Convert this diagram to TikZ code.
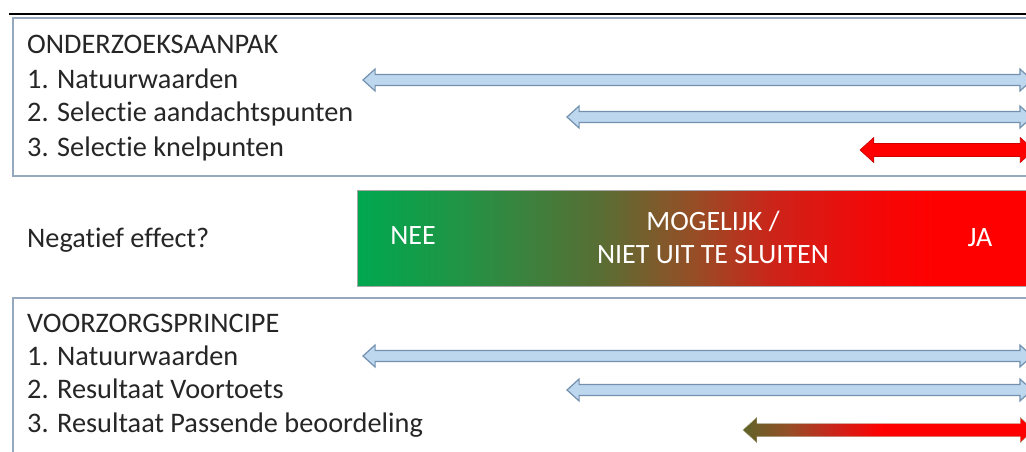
\documentclass[tikz,border=0pt]{standalone}
\usepackage{fontspec}
\setmainfont{Carlito}[Ligatures={NoCommon}]
\definecolor{boxline}{RGB}{150,168,190}
\definecolor{arrfill}{RGB}{189,215,238}
\definecolor{arrline}{RGB}{115,145,175}
\definecolor{gA}{RGB}{0,168,80}
\definecolor{gB}{RGB}{30,150,70}
\definecolor{gC}{RGB}{88,110,52}
\definecolor{gD}{RGB}{150,78,38}
\definecolor{gE}{RGB}{205,35,25}
\definecolor{gF}{RGB}{242,8,8}
\definecolor{olv}{RGB}{95,100,40}
\pgfdeclarehorizontalshading{effectbar}{100bp}{color(0bp)=(gA); color(25bp)=(gA); color(32bp)=(gB); color(43bp)=(gC); color(50bp)=(gD); color(56bp)=(gE); color(63bp)=(gF); color(68bp)=(red); color(100bp)=(red)}
\pgfdeclarehorizontalshading{lastarrow}{100bp}{color(0bp)=(olv); color(25bp)=(olv); color(33bp)=(gD); color(41bp)=(gE); color(49bp)=(red); color(100bp)=(red)}
\newcommand\dblarrow[6]{%
  \path[#1] (#2,#4) -- (#2+1.1*#6,#4-#6) -- (#2+1.1*#6,#4-#5) -- (#3-1.1*#6,#4-#5)
    -- (#3-1.1*#6,#4-#6) -- (#3,#4) -- (#3-1.1*#6,#4+#6) -- (#3-1.1*#6,#4+#5)
    -- (#2+1.1*#6,#4+#5) -- (#2+1.1*#6,#4+#6) -- cycle;}
\tikzset{
  lbl/.style={anchor=west, inner sep=0pt, font=\fontsize{28.3}{34}\selectfont, text=black!85},
  barlbl/.style={inner sep=0pt, text=white, font=\fontsize{28}{33}\selectfont, align=center},
  blue arrow/.style={fill=arrfill, draw=arrline, line width=1.2pt, line join=miter},
  red arrow/.style={fill=red, draw=red!80!black, line width=0.6pt},
  grad arrow/.style={shading=lastarrow, draw=olv!60, line width=0.4pt},
  panel/.style={draw=boxline, line width=1.5pt}
}
\begin{document}
\begin{tikzpicture}[x=1pt,y=-1pt]
\useasboundingbox (0,0) rectangle (1026,452);
\fill[white] (0,0) rectangle (1026,452);
\clip (0,0) rectangle (1026,452);
% top rule
\draw[line width=2pt, black] (9,14) -- (1030,14);
% panels
\draw[panel] (1040,18) -- (13,18) -- (13,176) -- (1040,176);
\draw[panel] (1040,298) -- (13,298) -- (13,460);
% top panel texts
\node[lbl] (t0) at (27,44) {ONDERZOEKSAANPAK};
\node[lbl] (t1) at (27,79) {1. Natuurwaarden};
\node[lbl] (t2) at (27,114) {2. Selectie aandachtspunten};
\node[lbl] (t3) at (27,149) {3. Selectie knelpunten};
% top arrows
\dblarrow{blue arrow}{363}{1032}{80}{5.5}{11}
\dblarrow{blue arrow}{567}{1032}{117}{5.5}{11}
\dblarrow{red arrow}{860}{1034}{150}{6.5}{12.5}
% effect bar
\node[lbl] (q) at (27,240) {Negatief effect?};
\shade[shading=effectbar, draw=black!35, line width=0.5pt] (357,190) rectangle (1030,286);
\node[barlbl] (nee) at (413,236) {NEE};
\node[barlbl] (mog) at (713,237) {MOGELIJK /\\NIET UIT TE SLUITEN};
\node[barlbl] (ja) at (980,238) {JA};
% bottom panel texts
\node[lbl] (b0) at (27,323) {VOORZORGSPRINCIPE};
\node[lbl] (b1) at (27,356) {1. Natuurwaarden};
\node[lbl] (b2) at (27,389) {2. Resultaat Voortoets};
\node[lbl] (b3) at (27,425) {3. Resultaat Passende beoordeling};
% bottom arrows
\dblarrow{blue arrow}{363}{1032}{356}{5.5}{11}
\dblarrow{blue arrow}{567}{1032}{390}{5.5}{11}
\dblarrow{grad arrow}{743}{1034}{430}{6.5}{12.5}
\end{tikzpicture}
\end{document}
